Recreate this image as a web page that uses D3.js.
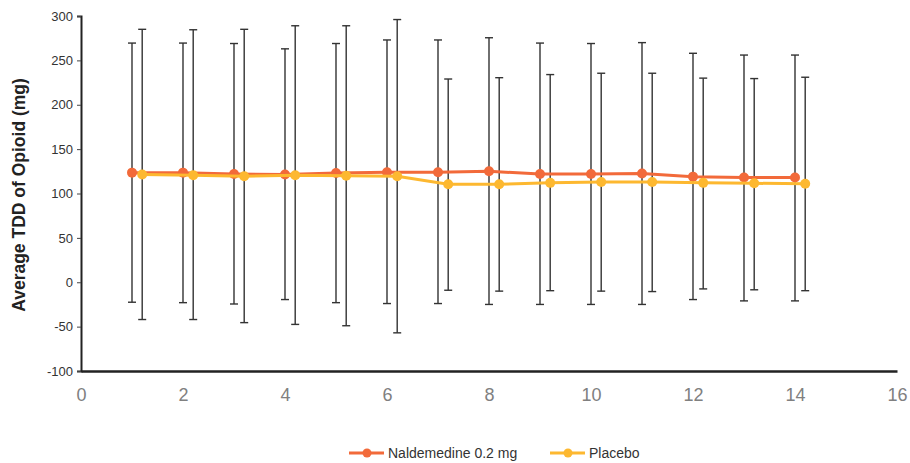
<!DOCTYPE html>
<html>
<head>
<meta charset="utf-8">
<script src="https://d3js.org/d3.v7.min.js"></script>
<style>
  body { margin: 0; background: #fff; }
  svg { font-family: "Liberation Sans", Arial, sans-serif; }
</style>
</head>
<body>
<svg id="chart" width="910" height="463"></svg>
<script>
// week numbers (placebo plotted slightly offset to the right)
var weeks = [1, 2, 3, 4, 5, 6, 7, 8, 9, 10, 11, 12, 13, 14];
var offset = 0.2;

var naldMean = [123.5, 123.5, 122, 121.5, 123, 124, 124, 125, 122, 122, 122.5, 119, 118, 118];
var naldHigh = [269.5, 269.5, 269, 263, 269, 273, 273, 275.5, 269.5, 269, 270, 258, 256, 256];
var naldLow  = [-22.5, -23, -24.5, -19.5, -23, -24, -24, -25, -25, -25, -25, -19.5, -21, -21];

var placMean = [121.5, 120.5, 119.5, 120.5, 120, 119.5, 110.5, 110.5, 112, 113, 113, 112, 111.5, 111];
var placHigh = [285, 284.5, 285, 289, 289, 296, 229, 230.5, 234, 235.5, 235.5, 230, 229.5, 231];
var placLow  = [-42, -42, -45.5, -47.5, -49, -57, -9, -10, -9.5, -10, -10.5, -7.5, -8.5, -9.5];

var xTicks = [0, 2, 4, 6, 8, 10, 12, 14, 16];
var yTicks = [-100, -50, 0, 50, 100, 150, 200, 250, 300];

var seriesNames = ["Naldemedine 0.2 mg", "Placebo"];
var colors = ["#F26A3A", "#FDB830"];

var svg = d3.select("#chart");
var x = d3.scaleLinear().domain([0, 16]).range([81, 897]);
var y = d3.scaleLinear().domain([-100, 300]).range([371, 16]);

// y axis (plain hyphen for negatives, like the original)
var yAxis = svg.append("g")
  .attr("transform", "translate(81,0)")
  .call(d3.axisLeft(y).tickValues(yTicks).tickSize(4).tickPadding(4)
    .tickFormat(function(d) { return String(d); }));
yAxis.select(".domain").attr("stroke", "#222").attr("stroke-width", 2);
yAxis.selectAll(".tick line").attr("stroke", "#444");
yAxis.selectAll("text").attr("font-size", 13).attr("fill", "#333");

// x axis
var xAxis = svg.append("g")
  .attr("transform", "translate(0,371)")
  .call(d3.axisBottom(x).tickValues(xTicks).tickSize(0).tickPadding(17));
xAxis.select(".domain").attr("stroke", "#222").attr("stroke-width", 2.5);
xAxis.selectAll("text").attr("font-size", 18).attr("fill", "#808080");

svg.append("text")
  .attr("transform", "translate(25,195) rotate(-90)")
  .attr("text-anchor", "middle")
  .attr("font-size", 17.5)
  .attr("font-weight", "bold")
  .attr("fill", "#222")
  .text("Average TDD of Opioid (mg)");

var series = [
  { name: seriesNames[0], color: colors[0], dx: 0, mean: naldMean, hi: naldHigh, lo: naldLow },
  { name: seriesNames[1], color: colors[1], dx: offset, mean: placMean, hi: placHigh, lo: placLow }
];

// error bars
series.forEach(function(s) {
  var g = svg.append("g").attr("stroke", "#333").attr("stroke-width", 1.4);
  weeks.forEach(function(w, i) {
    var cx = x(w + s.dx);
    g.append("line").attr("x1", cx).attr("x2", cx).attr("y1", y(s.hi[i])).attr("y2", y(s.lo[i]));
    g.append("line").attr("x1", cx - 4).attr("x2", cx + 4).attr("y1", y(s.hi[i])).attr("y2", y(s.hi[i]));
    g.append("line").attr("x1", cx - 4).attr("x2", cx + 4).attr("y1", y(s.lo[i])).attr("y2", y(s.lo[i]));
  });
});

// lines and markers
var line = d3.line();
series.forEach(function(s) {
  var pts = weeks.map(function(w, i) { return [x(w + s.dx), y(s.mean[i])]; });
  svg.append("path").attr("d", line(pts)).attr("fill", "none")
    .attr("stroke", s.color).attr("stroke-width", 3);
  svg.append("g").selectAll("circle").data(pts).enter().append("circle")
    .attr("cx", function(d) { return d[0]; })
    .attr("cy", function(d) { return d[1]; })
    .attr("r", 5)
    .attr("fill", s.color);
});

// legend
var legendX = [349, 550];
series.forEach(function(s, i) {
  var g = svg.append("g").attr("transform", "translate(" + legendX[i] + ",453)");
  g.append("line").attr("x1", 0).attr("x2", 35).attr("stroke", s.color).attr("stroke-width", 3);
  g.append("circle").attr("cx", 18).attr("r", 4.5).attr("fill", s.color);
  g.append("text").attr("x", 39).attr("y", 5).attr("font-size", 14).attr("fill", "#333").text(s.name);
});
</script>
</body>
</html>
